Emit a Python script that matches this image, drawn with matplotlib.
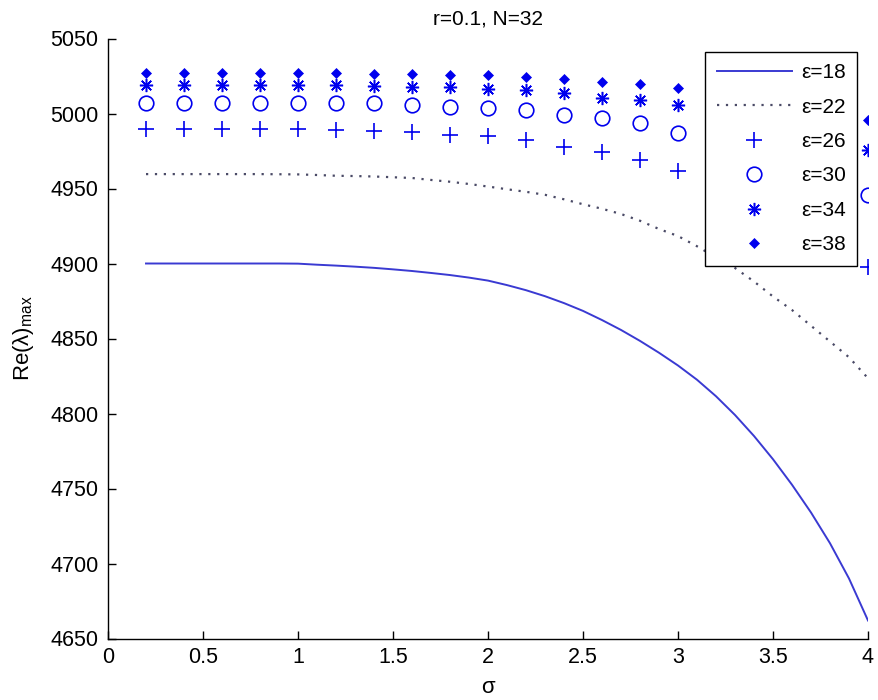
import matplotlib
matplotlib.use("Agg")
import matplotlib.pyplot as plt

plt.rcParams['font.family'] = ['Liberation Sans', 'DejaVu Sans']
plt.rcParams['mathtext.fontset'] = 'custom'
plt.rcParams['mathtext.rm'] = 'Liberation Sans'
plt.rcParams['mathtext.it'] = 'Liberation Sans:italic'

# ---- data ----
title = "r=0.1, N=32"
xlabel = "σ"
ylabel = r"Re($\mathregular{\lambda}$)$_{\mathregular{max}}$"

sigma_line = [0.2, 0.3, 0.4, 0.5, 0.6, 0.7, 0.8, 0.9, 1.0, 1.1, 1.2, 1.3, 1.4, 1.5,
              1.6, 1.7, 1.8, 1.9, 2.0, 2.1, 2.2, 2.3, 2.4, 2.5, 2.6, 2.7, 2.8, 2.9,
              3.0, 3.1, 3.2, 3.3, 3.4, 3.5, 3.6, 3.7, 3.8, 3.9, 4.0]
eps18 = [4900, 4900, 4900, 4900, 4900, 4900, 4900, 4900, 4899.9, 4899.2, 4898.6, 4897.9,
         4897.1, 4896.1, 4895, 4893.7, 4892.3, 4890.6, 4888.6, 4885.6, 4882.2, 4878.2,
         4873.6, 4868.4, 4862.3, 4855.7, 4848.4, 4840.5, 4832, 4822.5, 4811.5, 4799,
         4785, 4769.5, 4752.5, 4734, 4713.5, 4690, 4662]
eps22 = [4959.6, 4959.6, 4959.6, 4959.6, 4959.6, 4959.6, 4959.6, 4959.5, 4959.4, 4959,
         4958.5, 4958.3, 4958, 4957.5, 4957, 4955.7, 4954.5, 4953, 4951.3, 4949.5,
         4947.8, 4945.8, 4942.8, 4939.5, 4936.5, 4933, 4928.5, 4923, 4918.3, 4911.5,
         4904, 4897, 4888, 4878, 4869, 4858.5, 4848, 4837.5, 4823.5]

sigma_pts = [0.2, 0.4, 0.6, 0.8, 1.0, 1.2, 1.4, 1.6, 1.8, 2.0, 2.2, 2.4, 2.6, 2.8, 3.0, 4.0]
eps26 = [4989.5, 4989.5, 4989.5, 4989.5, 4989.5, 4989.3, 4988.5, 4987.5, 4986, 4984.8,
         4982.2, 4977.8, 4974.5, 4969.2, 4961.6, 4898]
eps30 = [5007.3, 5007.3, 5007.3, 5007.3, 5007.3, 5007.2, 5007, 5005.8, 5004.3, 5003.5,
         5002.3, 4999, 4996.8, 4993.5, 4987.3, 4945.8]
eps34 = [5019.2, 5019.2, 5019.2, 5019.2, 5019.2, 5019, 5018.4, 5018, 5017.8, 5016.4,
         5015.7, 5013.5, 5010.6, 5009, 5005.7, 4975.8]
eps38 = [5027.3, 5027.3, 5027.3, 5027.3, 5027.3, 5027.2, 5026.5, 5026.3, 5026, 5025.6,
         5024.6, 5022.9, 5021.3, 5019.8, 5016.9, 4995.8]

labels = ["ε=18", "ε=22", "ε=26", "ε=30", "ε=34", "ε=38"]
xticks = [0, 0.5, 1, 1.5, 2, 2.5, 3, 3.5, 4]
xticklabels = ["0", "0.5", "1", "1.5", "2", "2.5", "3", "3.5", "4"]
yticks = [4650, 4700, 4750, 4800, 4850, 4900, 4950, 5000, 5050]
yticklabels = ["4650", "4700", "4750", "4800", "4850", "4900", "4950", "5000", "5050"]

# ---- figure ----
fig = plt.figure(figsize=(8.79, 7.00), dpi=100)
ax = fig.add_axes([108/879, 61.5/700, 760/879, 600/700])

blue = '#0000ee'
ax.plot(sigma_line, eps18, color='#3a3ad2', lw=1.4, label=labels[0])
ax.plot(sigma_line, eps22, color='#4a4a66', lw=1.6, linestyle=(0, (1, 3.0)), label=labels[1])
ax.plot(sigma_pts, eps26, linestyle='none', marker='+', ms=11.5, mew=1.2, color=blue, label=labels[2])
ax.plot(sigma_pts, eps30, linestyle='none', marker='o', ms=10.5, mew=1.2, mfc='none', mec=blue, label=labels[3])
ax.plot(sigma_pts, eps34, linestyle='none', marker=(8, 2, 0), ms=9.5, mew=1.1, color=blue, label=labels[4])
ax.plot(sigma_pts, eps38, linestyle='none', marker='D', ms=4.8, mew=0.5, color=blue, label=labels[5])

ax.set_xlim(0, 4)
ax.set_ylim(4650, 5050)
ax.set_xticks(xticks)
ax.set_xticklabels(xticklabels)
ax.set_yticks(yticks)
ax.set_yticklabels(yticklabels)
ax.tick_params(direction='in', length=6, width=1.0, labelsize=15.5, colors='black')
ax.tick_params(axis='y', pad=7)
ax.tick_params(axis='x', pad=6)
for s in ['top', 'right']:
    ax.spines[s].set_visible(False)
for s in ['left', 'bottom']:
    ax.spines[s].set_linewidth(1.0)

ax.set_title(title, fontsize=15, pad=10)
ax.set_xlabel(xlabel, fontsize=16)
ax.set_ylabel(ylabel, fontsize=16)
ax.yaxis.set_label_coords(-(108 - 36) / 760, 0.5)
ax.xaxis.set_label_coords(0.5, -(677 - 638.5) / 600)

leg = ax.legend(loc='upper right', bbox_to_anchor=(0.986, 0.978), fontsize=15,
                frameon=True, fancybox=False, edgecolor='black', framealpha=1,
                handlelength=3.6, handletextpad=0.45, labelspacing=0.74,
                borderpad=0.55, borderaxespad=0)
leg.get_frame().set_linewidth(1.0)

fig.savefig("out.png", dpi=100)
